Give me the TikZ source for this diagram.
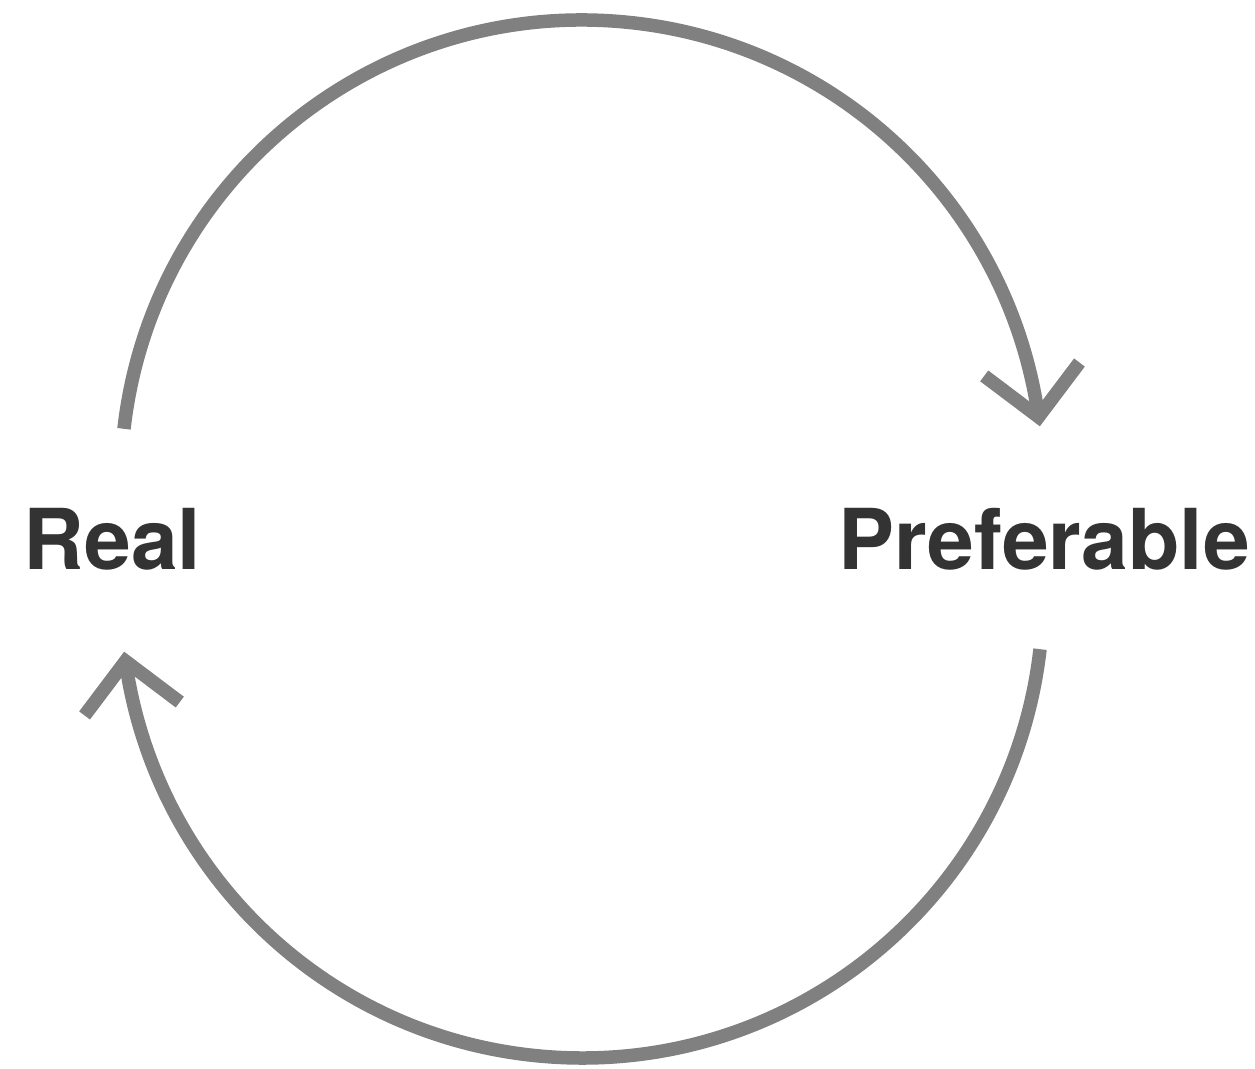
\documentclass[tikz,border=0pt]{standalone}
\usepackage{fontspec}
\setmainfont{TeX Gyre Heros}
\usetikzlibrary{calc}
\definecolor{cyclegrey}{HTML}{808080}
\definecolor{labelgrey}{HTML}{333333}
\begin{document}
\begin{tikzpicture}[x=1pt,y=1pt,
  cycleline/.style={draw=cyclegrey,line width=13.5pt,line cap=butt,line join=miter},
  label/.style={inner sep=0pt,anchor=base west,text=labelgrey,
    font=\fontsize{84}{84}\selectfont\bfseries}]
\useasboundingbox (0,0) rectangle (1255,1068);
% centres of the two half-circles
\coordinate (ctop) at (582,587);
\coordinate (cbot) at (582,471);
% arc ends
\coordinate (topstart) at ($(ctop)+(173.5:461)$);
\coordinate (toptip) at ($(ctop)+(8:461)$);
\coordinate (botstart) at ($(cbot)+(-6.5:461)$);
\coordinate (bottip) at ($(cbot)+(-172:461)$);
% labels
\node[label] (real) at (23.5,498) {Real};
\node[label] (pref) at (838.5,498) {Preferable};
% upper arc: Real to Preferable
\draw[cycleline] (topstart) arc[start angle=173.5,end angle=8,radius=461];
\draw[cycleline] ([shift={(143:68)}]toptip) -- (toptip) -- ([shift={(53:68)}]toptip);
% lower arc: Preferable back to Real
\draw[cycleline] (botstart) arc[start angle=-6.5,end angle=-172,radius=461];
\draw[cycleline] ([shift={(-37:68)}]bottip) -- (bottip) -- ([shift={(-127:68)}]bottip);
\end{tikzpicture}
\end{document}
